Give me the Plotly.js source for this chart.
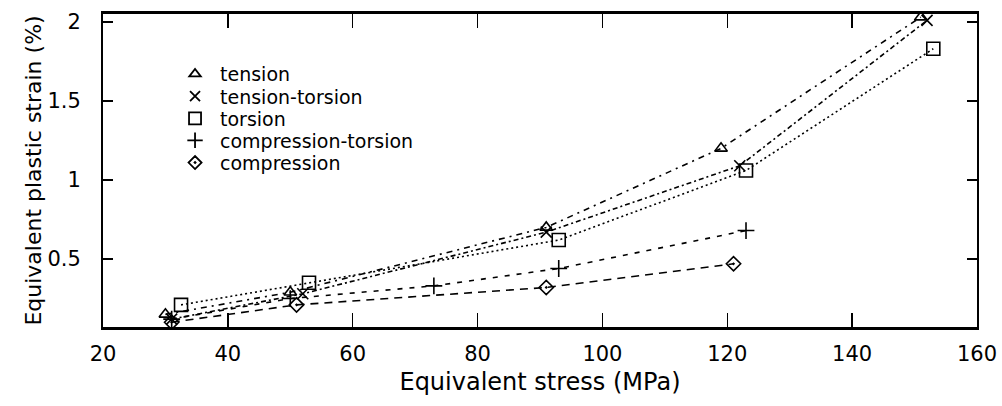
<!DOCTYPE html>
<html>
<head>
<meta charset="utf-8">
<script src="https://cdn.plot.ly/plotly-3.0.1.min.js"></script>
<style>html,body{margin:0;padding:0;background:#fff;}#chart{width:1002px;height:406px;}</style>
</head>
<body>
<div id="chart"></div>
<script>
const seriesNames = ["tension", "tension-torsion", "torsion", "compression-torsion", "compression"];
const tensionX = [30, 50, 91, 119, 151];
const tensionY = [0.15, 0.29, 0.70, 1.20, 2.03];
const tensionTorsionX = [31, 52, 91, 122, 152];
const tensionTorsionY = [0.12, 0.28, 0.67, 1.09, 2.01];
const torsionX = [32.5, 53, 93, 123, 153];
const torsionY = [0.21, 0.35, 0.62, 1.06, 1.83];
const compTorsionX = [31, 50, 73, 93, 123];
const compTorsionY = [0.12, 0.25, 0.33, 0.44, 0.68];
const compressionX = [31, 51, 91, 121];
const compressionY = [0.10, 0.21, 0.32, 0.47];
const xTicks = [20, 40, 60, 80, 100, 120, 140, 160];
const yTicks = [0.5, 1, 1.5, 2];
const yTickText = ["0.5", "1", "1.5", "2"];

const symbols = ["triangle-up-open", "x-thin-open", "square-open", "cross-thin-open", "diamond-open-dot"];
const sizes = [11, 11, 13, 12, 11];
const dashes = ["6px,5px,2px,5px", "5px,3px,2px,3px", "2px,3px", "5px,7px", "8px,6px"];
const xs = [tensionX, tensionTorsionX, torsionX, compTorsionX, compressionX];
const ys = [tensionY, tensionTorsionY, torsionY, compTorsionY, compressionY];
const legendIds = ["legend", "legend2", "legend3", "legend4", "legend5"];
const legendRowY = [0.808, 0.737, 0.666, 0.596, 0.525];

const traces = [];
for (let i = 0; i < seriesNames.length; i++) {
  traces.push({
    x: xs[i], y: ys[i], type: "scatter", mode: "lines+markers", showlegend: false,
    line: {color: "#000", width: 1.6, dash: dashes[i]},
    marker: {symbol: symbols[i], size: sizes[i], color: "#000", line: {color: "#000", width: 1.6}}
  });
}
for (let i = 0; i < seriesNames.length; i++) {
  traces.push({
    x: [null], y: [null], type: "scatter", mode: "markers", name: seriesNames[i],
    legend: legendIds[i], showlegend: true,
    marker: {symbol: symbols[i], size: sizes[i] - 1, color: "#000", line: {color: "#000", width: 1.8}}
  });
}
const fontFam = "DejaVu Sans, Verdana, sans-serif";
const layout = {
  width: 1002, height: 406,
  margin: {l: 103, r: 25, t: 14, b: 79},
  paper_bgcolor: "#fff", plot_bgcolor: "#fff",
  font: {family: fontFam, size: 21, color: "#000"},
  xaxis: {
    range: [20, 160], tickvals: xTicks, ticks: "inside", ticklen: 14, tickwidth: 1.5, tickcolor: "#000",
    showline: true, linecolor: "#000", linewidth: 3, mirror: "ticks", showgrid: false, zeroline: false,
    ticklabelstandoff: 6, tickfont: {size: 21},
    title: {text: "Equivalent stress (MPa)", font: {size: 24}, standoff: 8}
  },
  yaxis: {
    range: [0.07, 2.05], tickvals: yTicks, ticktext: yTickText, ticks: "inside", ticklen: 10, tickwidth: 2.5, tickcolor: "#000",
    showline: true, linecolor: "#000", linewidth: 2, mirror: "ticks", showgrid: false, zeroline: false,
    ticklabelstandoff: 16, tickfont: {size: 21},
    title: {text: "Equivalent plastic strain (%)", font: {size: 22}, standoff: 0}
  }
};
for (let i = 0; i < legendIds.length; i++) {
  layout[legendIds[i]] = {
    x: 0.0767, y: legendRowY[i], xanchor: "left", yanchor: "middle", bgcolor: "rgba(0,0,0,0)",
    font: {size: 19, family: fontFam, color: "#000"}, itemwidth: 40, borderwidth: 0
  };
}
Plotly.newPlot("chart", traces, layout, {displayModeBar: false, staticPlot: true});
</script>
</body>
</html>
